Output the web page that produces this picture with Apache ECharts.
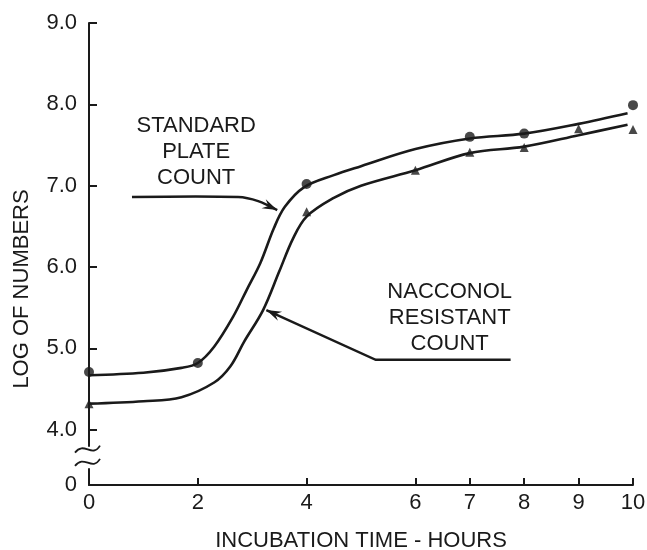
<!DOCTYPE html>
<html>
<head>
<meta charset="utf-8">
<script src="https://cdn.jsdelivr.net/npm/echarts@6/dist/echarts.min.js"></script>
<style>
  html, body { margin: 0; padding: 0; background: #fff; }
  #chart { width: 647px; height: 550px; }
</style>
</head>
<body>
<div id="chart"></div>
<script>
// measured points (hours, log of numbers)
var plateCountPts = [[0, 4.71], [2, 4.82], [4, 7.02], [7, 7.60], [8, 7.64], [10, 7.99]];
var nacconolPts = [[0, 4.32], [4, 6.68], [6, 7.19], [7, 7.41], [8, 7.47], [9, 7.70], [10, 7.69]];
// hand drawn fitted curves
var plateCountCurve = [[0, 4.67], [1, 4.70], [1.7, 4.76], [2, 4.82], [2.3, 5.02], [2.65, 5.39], [2.9, 5.72],
  [3.15, 6.05], [3.4, 6.48], [3.6, 6.74], [3.95, 6.98], [4.5, 7.13], [5, 7.24], [6, 7.45], [7, 7.58],
  [8, 7.64], [9, 7.76], [9.9, 7.89]];
var nacconolCurve = [[0, 4.32], [1, 4.35], [1.7, 4.40], [2.3, 4.58], [2.6, 4.78], [2.85, 5.08], [3.2, 5.47],
  [3.5, 5.95], [3.75, 6.35], [4.0, 6.62], [4.5, 6.85], [5, 7.00], [6, 7.19], [7, 7.40], [8, 7.48],
  [9, 7.62], [9.9, 7.75]];
var xTicks = [0, 2, 4, 6, 7, 8, 9, 10];
var yTicks = [0, 4, 5, 6, 7, 8, 9];

var font = 'Liberation Sans';
var ink = '#1a1a1a';

var chart = echarts.init(document.getElementById('chart'));
chart.setOption({
  backgroundColor: '#fff',
  animation: false,
  grid: { left: 89, right: 14, top: 23, bottom: 65, containLabel: false, outerBoundsMode: 'none' },
  xAxis: {
    type: 'value',
    min: 0,
    max: 10,
    name: 'INCUBATION TIME - HOURS',
    nameLocation: 'middle',
    nameGap: 45,
    nameTextStyle: { fontFamily: font, fontSize: 22, color: ink },
    axisLine: { lineStyle: { color: ink, width: 2 } },
    axisTick: { inside: true, length: 7, customValues: xTicks, lineStyle: { color: ink, width: 2 } },
    axisLabel: { customValues: xTicks, fontFamily: font, fontSize: 22, color: ink, margin: 7 },
    splitLine: { show: false }
  },
  yAxis: {
    type: 'value',
    min: 0,
    max: 9,
    breaks: [{ start: 0.2, end: 3.8, gap: 0.28 }],
    breakArea: { show: false },
    name: 'LOG OF NUMBERS',
    nameLocation: 'middle',
    nameRotate: 90,
    nameGap: 56,
    nameTextStyle: { fontFamily: font, fontSize: 22, color: ink, padding: [0, 70, 0, 0] },
    axisLine: { show: true, lineStyle: { color: ink, width: 2 } },
    axisTick: { inside: true, length: 8, customValues: yTicks, lineStyle: { color: ink, width: 2 } },
    axisLabel: {
      customValues: yTicks, fontFamily: font, fontSize: 22, color: ink, margin: 12,
      formatter: function (v) { return v === 0 ? '0' : v.toFixed(1); }
    },
    splitLine: { show: false }
  },
  series: [
    {
      name: 'Standard plate count curve', type: 'line', data: plateCountCurve,
      smooth: 0.35, showSymbol: false, clip: false,
      lineStyle: { color: ink, width: 2.6 }
    },
    {
      name: 'Nacconol resistant curve', type: 'line', data: nacconolCurve,
      smooth: 0.35, showSymbol: false, clip: false,
      lineStyle: { color: ink, width: 2.6 }
    },
    {
      name: 'Standard plate count', type: 'scatter', data: plateCountPts,
      symbol: 'circle', symbolSize: 10, clip: false, itemStyle: { color: ink }, z: 5
    },
    {
      name: 'Nacconol resistant count', type: 'scatter', data: nacconolPts,
      symbol: 'triangle', symbolSize: 9, clip: false, itemStyle: { color: ink }, z: 5
    }
  ]
});

// annotations, anchored in data units
var stdLabel = { at: [1.97, 7.415], text: 'STANDARD\nPLATE\nCOUNT' };
var stdArrow = [[0.79, 6.86], [2.74, 6.86], [3.11, 6.81], [3.46, 6.70]];
var nacLabel = { at: [6.63, 5.38], text: 'NACCONOL\nRESISTANT\nCOUNT' };
var nacArrow = [[7.75, 4.86], [5.27, 4.86], [3.26, 5.47]];

function px(p) { return chart.convertToPixel({ gridIndex: 0 }, p); }

function arrowHead(pts) {
  var t = pts[pts.length - 1], f = pts[pts.length - 2];
  var dx = t[0] - f[0], dy = t[1] - f[1], len = Math.sqrt(dx * dx + dy * dy);
  dx /= len; dy /= len;
  var nx = -dy, ny = dx, L = 15, w = 5;
  return [t, [t[0] - dx * L + nx * w, t[1] - dy * L + ny * w],
    [t[0] - dx * L * 0.65, t[1] - dy * L * 0.65],
    [t[0] - dx * L - nx * w, t[1] - dy * L - ny * w]];
}

function labelText(lbl) {
  var p = px(lbl.at);
  return {
    type: 'text', x: p[0], y: p[1],
    style: { text: lbl.text, fontFamily: font, fontSize: 22, fill: ink, align: 'center', verticalAlign: 'middle', lineHeight: 26 }
  };
}

var stdPx = stdArrow.map(px);
var nacPx = nacArrow.map(px);

// broken axis marks between 4.0 and 0
var p0 = px([0, 0]), p4 = px([0, 4]);
var yA = p4[1] + 0.36 * (p0[1] - p4[1]);
var yB = p4[1] + 0.60 * (p0[1] - p4[1]);
function squiggle(y) {
  var x = p0[0];
  return {
    type: 'bezierCurve',
    shape: { x1: x - 14, y1: y + 3, cpx1: x - 5, cpy1: y - 9, cpx2: x + 3, cpy2: y + 9, x2: x + 11, y2: y - 4 },
    style: { stroke: ink, lineWidth: 1.8, fill: 'none' }, z: 10
  };
}

chart.setOption({
  graphic: [
    labelText(stdLabel),
    labelText(nacLabel),
    { type: 'polyline', shape: { points: stdPx, smooth: 0.3 }, style: { stroke: ink, lineWidth: 2.4, fill: 'none' } },
    { type: 'polygon', shape: { points: arrowHead(stdPx) }, style: { fill: ink } },
    { type: 'polyline', shape: { points: nacPx }, style: { stroke: ink, lineWidth: 2.4, fill: 'none' } },
    { type: 'polygon', shape: { points: arrowHead(nacPx) }, style: { fill: ink } },
    { type: 'rect', shape: { x: p0[0] - 3, y: yA + 2, width: 6, height: yB - yA - 4 }, style: { fill: '#fff' }, z: 9 },
    squiggle(yA),
    squiggle(yB)
  ]
});
</script>
</body>
</html>
